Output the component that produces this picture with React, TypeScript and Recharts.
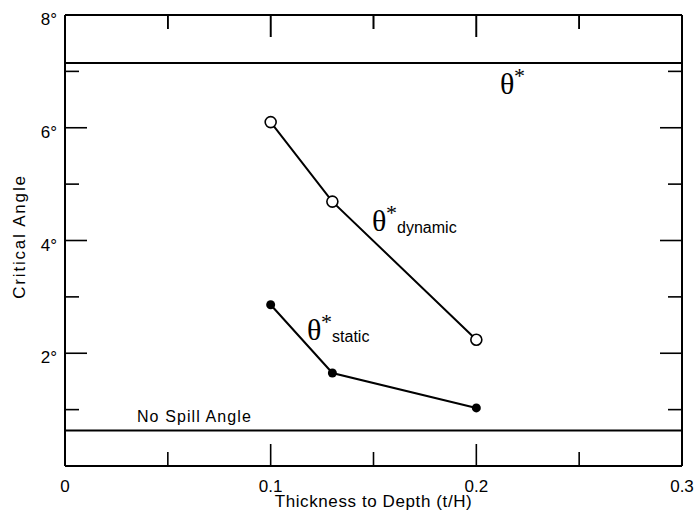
import { ComposedChart, Line, XAxis, YAxis, ReferenceLine, ReferenceDot } from "recharts";

// thickness-to-depth ratio (t/H)
const THICKNESS = [0.1, 0.13, 0.2];
// critical angles (degrees)
const DYNAMIC_ANGLE = [6.1, 4.69, 2.24];
const STATIC_ANGLE = [2.86, 1.65, 1.03];

const THETA_STAR = 7.15;
const NO_SPILL = 0.63;

const X_DOMAIN = [0, 0.3];
const Y_DOMAIN = [0, 8];
const X_TICKS = [0, 0.05, 0.1, 0.15, 0.2, 0.25, 0.3];
const Y_TICKS = [0, 1, 2, 3, 4, 5, 6, 7, 8];
const X_LABELED = ["0", "0.1", "0.2", "0.3"];
const Y_LABELED = [2, 4, 6, 8];

const SANS = "'Liberation Sans', Arial, Helvetica, sans-serif";
const SERIF = "'Liberation Serif', 'Times New Roman', serif";

const data = THICKNESS.map((t, i) => ({
  t,
  dynamic: DYNAMIC_ANGLE[i],
  static: STATIC_ANGLE[i],
}));

const isMajorX = (v: number) => Math.abs(v * 10 - Math.round(v * 10)) < 1e-6;
const isMajorY = (v: number) => v % 2 === 0;
const xLen = (v: number) => (isMajorX(v) ? 22 : 14);
const yLen = (v: number) => (isMajorY(v) ? 22 : 14);

function BottomLabel(props: any) {
  const { x, y, payload } = props;
  const txt = String(Math.round(payload.value * 100) / 100);
  if (!X_LABELED.includes(txt)) return <g />;
  return (
    <text x={x} y={y + 26} textAnchor="middle" fontSize={17} fontFamily={SANS} fill="#000">
      {txt}
    </text>
  );
}

function LeftLabel(props: any) {
  const { x, y, payload } = props;
  const v: number = payload.value;
  if (!Y_LABELED.includes(v)) return <g />;
  return (
    <text x={x - 8} y={y + 10} textAnchor="end" fontSize={17} fontFamily={SANS} fill="#000">
      {`${v}°`}
    </text>
  );
}

/* inward tick marks at both ends of a reference line */
function EndTicks(props: any) {
  const { x1, y1, x2, y2, len } = props;
  const dx = Math.sign(x2 - x1);
  const dy = Math.sign(y2 - y1);
  return (
    <g stroke="#000" strokeWidth={1.6}>
      <line x1={x1} y1={y1} x2={x1 + dx * len} y2={y1 + dy * len} />
      <line x1={x2} y1={y2} x2={x2 - dx * len} y2={y2 - dy * len} />
    </g>
  );
}

/* top side of the frame, with its downward ticks */
function TopFrame(props: any) {
  const { x1, y1, x2 } = props;
  const l = Math.min(x1, x2);
  const r = Math.max(x1, x2);
  const span = X_DOMAIN[1] - X_DOMAIN[0];
  return (
    <g stroke="#000">
      <line x1={l} y1={y1} x2={r} y2={y1} strokeWidth={2} />
      {X_TICKS.map((v) => {
        const x = l + ((v - X_DOMAIN[0]) / span) * (r - l);
        return <line key={v} x1={x} y1={y1} x2={x} y2={y1 + xLen(v)} strokeWidth={1.6} />;
      })}
    </g>
  );
}

function ThetaLabel({ x, y, sub }: { x: number; y: number; sub?: string }) {
  return (
    <text x={x} y={y} fill="#000" fontFamily={SANS}>
      <tspan fontSize={30} fontFamily={SERIF}>θ</tspan>
      <tspan x={x + 14} dy={-11} fontSize={22} fontFamily={SERIF}>*</tspan>
      {sub && (
        <tspan x={x + 25} dy={13} fontSize={16}>{sub}</tspan>
      )}
    </text>
  );
}

const thetaAt = (sub?: string) => (props: any) => {
  const vb = props.viewBox || {};
  const cx = vb.x + (vb.width || 0) / 2;
  const cy = vb.y + (vb.height || 0) / 2;
  return <ThetaLabel x={cx} y={cy} sub={sub} />;
};

const textAt = (value: string) => (props: any) => {
  const vb = props.viewBox || {};
  const cx = vb.x + (vb.width || 0) / 2;
  const cy = vb.y + (vb.height || 0) / 2;
  return (
    <text x={cx} y={cy} fontSize={16} fontFamily={SANS} letterSpacing={1.1} fill="#000">
      {value}
    </text>
  );
};

export default function App() {
  return (
    <div style={{ position: "absolute", left: 0, top: 0, width: 695, height: 518, background: "#fff" }}>
      <ComposedChart width={695} height={518} data={data} margin={{ top: 15, right: 13, bottom: 0, left: 0 }}>
        <XAxis
          xAxisId="bottom"
          dataKey="t"
          type="number"
          domain={X_DOMAIN}
          allowDataOverflow
          ticks={X_TICKS}
          interval={0}
          orientation="bottom"
          height={52}
          tickLine={false}
          tickSize={0}
          tickMargin={0}
          axisLine={{ stroke: "#000", strokeWidth: 2 }}
          tick={BottomLabel}
          label={(p: any) => {
            const vb = p.viewBox;
            return (
              <text x={vb.x + vb.width / 2} y={vb.y + 41} textAnchor="middle" fontSize={17}
                fontFamily={SANS} letterSpacing={0.6} fill="#000">
                Thickness to Depth (t/H)
              </text>
            );
          }}
        />
        <YAxis
          yAxisId="left"
          type="number"
          domain={Y_DOMAIN}
          allowDataOverflow
          ticks={Y_TICKS}
          interval={0}
          orientation="left"
          width={65}
          tickLine={false}
          tickSize={0}
          tickMargin={0}
          axisLine={{ stroke: "#000", strokeWidth: 2 }}
          tick={LeftLabel}
          label={(p: any) => {
            const vb = p.viewBox;
            const cx = vb.x + 25;
            const cy = vb.y + vb.height / 2 - 4;
            return (
              <text x={cx} y={cy} transform={`rotate(-90 ${cx} ${cy})`} textAnchor="middle" fontSize={17}
                fontFamily={SANS} letterSpacing={1.8} fill="#000">
                Critical Angle
              </text>
            );
          }}
        />

        {X_TICKS.map((v) => (
          <ReferenceLine key={`xt${v}`} xAxisId="bottom" yAxisId="left" x={v} ifOverflow="visible"
            shape={(p: any) => <EndTicks {...p} len={xLen(v)} />} />
        ))}
        {Y_TICKS.map((v) => (
          <ReferenceLine key={`yt${v}`} xAxisId="bottom" yAxisId="left" y={v} ifOverflow="visible"
            shape={(p: any) => <EndTicks {...p} len={yLen(v)} />} />
        ))}

        {/* top and right sides of the frame */}
        <ReferenceLine xAxisId="bottom" yAxisId="left" y={Y_DOMAIN[1]} ifOverflow="visible"
          shape={(p: any) => <TopFrame {...p} />} />
        <ReferenceLine xAxisId="bottom" yAxisId="left" x={X_DOMAIN[1]} ifOverflow="visible" stroke="#000" strokeWidth={2} />

        <ReferenceLine xAxisId="bottom" yAxisId="left" y={THETA_STAR} stroke="#000" strokeWidth={2} />
        <ReferenceLine xAxisId="bottom" yAxisId="left" y={NO_SPILL} stroke="#000" strokeWidth={2} />

        <Line
          xAxisId="bottom"
          yAxisId="left"
          dataKey="dynamic"
          stroke="#000"
          strokeWidth={2}
          dot={{ r: 5.5, fill: "#fff", stroke: "#000", strokeWidth: 1.6 }}
          isAnimationActive={false}
        />
        <Line
          xAxisId="bottom"
          yAxisId="left"
          dataKey="static"
          stroke="#000"
          strokeWidth={2}
          dot={{ r: 4.5, fill: "#000", stroke: "#000", strokeWidth: 0 }}
          isAnimationActive={false}
        />

        <ReferenceDot xAxisId="bottom" yAxisId="left" x={0.2115} y={6.6} r={1} fill="none" stroke="none"
          label={thetaAt()} />
        <ReferenceDot xAxisId="bottom" yAxisId="left" x={0.1493} y={4.16} r={1} fill="none" stroke="none"
          label={thetaAt("dynamic")} />
        <ReferenceDot xAxisId="bottom" yAxisId="left" x={0.1177} y={2.24} r={1} fill="none" stroke="none"
          label={thetaAt("static")} />
        <ReferenceDot xAxisId="bottom" yAxisId="left" x={0.035} y={0.78} r={1} fill="none" stroke="none"
          label={textAt("No Spill Angle")} />
      </ComposedChart>
    </div>
  );
}
